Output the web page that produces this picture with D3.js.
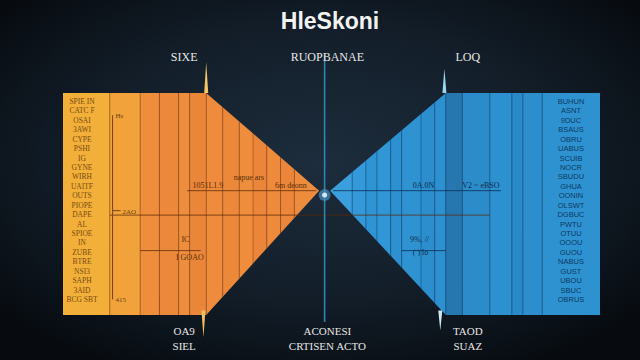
<!DOCTYPE html>
<html><head><meta charset="utf-8">
<script src="https://cdn.jsdelivr.net/npm/d3@7"></script>
<style>html,body{margin:0;padding:0;background:#0d151d;}svg{display:block;}</style>
</head><body><svg id="c" width="640" height="360"></svg>
<script>
// ---------- data ----------
const title = "HleSkoni";
const headerLabels = ["SIXE", "RUOPBANAE", "LOQ"];
const footerLabels = [["OA9", "SIEL"], ["ACONESI", "CRTISEN ACTO"], ["TAOD", "SUAZ"]];
const headerPos = [-51, 1, 52];
// column edges (x units) and shades
const leftEdges = [-95, -78, -67, -60, -53, -49, -43, -37, -31, -26, -21, -16, -11, -2];
const leftShades = ["#f2b03a", "#f1a23a", "#ee8e3c", "#ec883a", "#ee8e3d", "#ea863a", "#ee8b3c", "#ec883a", "#ee8e3d", "#ea853a", "#ed8a3c", "#ec863a", "#ee8c3e"];
const rightEdges = [2, 10, 15, 19, 24, 28, 35, 40, 44, 50, 60, 68, 72, 79, 100];
const rightShades = ["#3a9fdc", "#3399d8", "#2f94d3", "#3196d5", "#2d90d0", "#2f93d2", "#2c8ecd", "#2d90cf", "#2677b0", "#2c8cca", "#2d90cf", "#2a8ac8", "#2c8ecc", "#2e92d1"];
// outlines: x, low value, high value
const leftOutline = [[-95, 0, 100], [-43, 0, 100], [-2, 56, 56]];
const rightOutline = [[2, 56, 56], [44, 0, 100], [100, 0, 100]];
// guide lines inside the wedges: x0, x1, value
const guideLines = [[-50, -3, 56], [3, 64, 56], [-78, 60, 45], [-67, -45, 29], [28, 44, 29]];
// bracket on the left: x, value range, tick labels
const bracketX = -77;
const bracketRange = [7, 90];
const bracketTicks = [[90, "Hs"], [47, "2AO"], [7, "415"]];
// inline annotations: x, value, text
const leftNotes = [[-48, 57, "1051L1.9"], [-33, 61, "napue ars"], [-18, 57, "6m deonn"], [-52, 33, "IC"], [-54, 25, "I GOAO"]];
const rightNotes = [[32, 57, "0A.0N"], [50, 57, "V2 ~ eBSO"], [31, 33, "9%, //"], [32, 27, "( ) lo"]];
const leftList = ["SPIE IN", "CATC F", "OSAI", "3AWI", "CYPE", "PSHI", "IG", "GYNE", "WIRH", "UAITF", "OUTS", "PIOPE", "DAPE", "AL", "SPIOE", "IN", "ZUBE", "BTRE", "NSI3", "SAPH", "3AID", "BCG SBT"];
const rightList = ["BUHUN", "ASNT", "9DUC", "BSAUS", "OBRU", "UABUS", "SCUIB", "NOCR", "SBUDU", "GHUA", "OONIN", "OLSWT", "DGBUC", "PWTU", "OTUU", "OOOU", "GUOU", "NABUS", "GUST", "UBOU", "SBUC", "OBRUS"];

// ---------- drawing ----------
const svg = d3.select("#c");
const W = 640, H = 360;
const x = d3.scaleLinear().domain([-95, 100]).range([63, 600]);
const y = d3.scaleLinear().domain([0, 100]).range([315, 93]);

const defs = svg.append("defs");
const bg = defs.append("radialGradient").attr("id", "bg").attr("cx", "50%").attr("cy", "45%").attr("r", "65%");
bg.append("stop").attr("offset", "0%").attr("stop-color", "#1d2d3d");
bg.append("stop").attr("offset", "60%").attr("stop-color", "#121d28");
bg.append("stop").attr("offset", "100%").attr("stop-color", "#070b10");
svg.append("rect").attr("width", W).attr("height", H).attr("fill", "url(#bg)");

const area = d3.area().x(d => x(d[0])).y0(d => y(d[1])).y1(d => y(d[2]));
defs.append("clipPath").attr("id", "clipL").append("path").attr("d", area(leftOutline));
defs.append("clipPath").attr("id", "clipR").append("path").attr("d", area(rightOutline));

function stripes(edges, shades, clip, lineCol) {
  const g = svg.append("g").attr("clip-path", `url(#${clip})`);
  g.selectAll("rect").data(shades).join("rect")
    .attr("x", (d, i) => x(edges[i])).attr("width", (d, i) => x(edges[i + 1]) - x(edges[i]))
    .attr("y", y(100)).attr("height", y(0) - y(100)).attr("fill", d => d);
  g.selectAll("line.sep").data(edges.slice(1, -1)).join("line").attr("class", "sep")
    .attr("x1", d => x(d)).attr("x2", d => x(d)).attr("y1", y(100)).attr("y2", y(0))
    .attr("stroke", lineCol).attr("stroke-width", 1);
  return g;
}
stripes(leftEdges, leftShades, "clipL", "rgba(120,55,10,0.45)");
stripes(rightEdges, rightShades, "clipR", "rgba(10,55,100,0.45)");

// guide lines
svg.append("g").selectAll("line").data(guideLines).join("line")
  .attr("x1", d => x(d[0])).attr("x2", d => x(d[1])).attr("y1", d => y(d[2])).attr("y2", d => y(d[2]))
  .attr("stroke", d => d[0] < 0 ? "rgba(90,40,10,0.75)" : "rgba(10,40,80,0.75)").attr("stroke-width", 1);

// center line
svg.append("line").attr("x1", x(0)).attr("x2", x(0)).attr("y1", 55).attr("y2", 322)
  .attr("stroke", "#2f86a8").attr("stroke-width", 1.6);
svg.append("circle").attr("cx", x(0)).attr("cy", y(54)).attr("r", 6).attr("fill", "#4a8fc0").attr("opacity", 0.7);
svg.append("circle").attr("cx", x(0)).attr("cy", y(54)).attr("r", 2.5).attr("fill", "#cfe6f5");

// spikes
const spikes = [[-43, 100, 114, "#f3c766"], [-44, 2, -10, "#f0c060"], [43.5, 100, 111, "#9ad6f2"], [42, 2, -7, "#cfeaf7"]];
svg.append("g").selectAll("path").data(spikes).join("path")
  .attr("d", d => `M${x(d[0]) - 2},${y(d[1])} L${x(d[0]) + 2},${y(d[1])} L${x(d[0])},${y(d[2])} Z`)
  .attr("fill", d => d[3]);

// bracket
const br = svg.append("g");
br.append("line").attr("x1", x(bracketX)).attr("x2", x(bracketX)).attr("y1", y(bracketRange[1])).attr("y2", y(bracketRange[0]))
  .attr("stroke", "#7a4512").attr("stroke-width", 1);
br.selectAll("text").data(bracketTicks).join("text")
  .attr("x", (d, i) => x(bracketX) + (i === 1 ? 10 : 3)).attr("y", d => y(d[0]) + 3)
  .attr("font-family", "Liberation Serif").attr("font-size", 7).attr("fill", "#6b3e10").text(d => d[1]);
br.append("line").attr("x1", x(bracketX)).attr("x2", x(bracketX) + 8).attr("y1", y(47)).attr("y2", y(47)).attr("stroke", "#7a4512");

// annotations
svg.append("g").selectAll("text").data(leftNotes).join("text")
  .attr("x", d => x(d[0])).attr("y", d => y(d[1])).attr("font-family", "Liberation Serif").attr("font-size", 8)
  .attr("fill", "#5a2e08").text(d => d[2]);
svg.append("g").selectAll("text").data(rightNotes).join("text")
  .attr("x", d => x(d[0])).attr("y", d => y(d[1])).attr("font-family", "Liberation Serif").attr("font-size", 8)
  .attr("fill", "#0c2c4c").text(d => d[2]);

// side lists
const ly = d3.scalePoint().domain(d3.range(22)).range([104, 302]);
svg.append("g").selectAll("text").data(leftList).join("text")
  .attr("x", 82).attr("y", (d, i) => ly(i)).attr("text-anchor", "middle")
  .attr("font-family", "Liberation Serif").attr("font-size", 7.5).attr("fill", "#7a4a10").text(d => d);
svg.append("g").selectAll("text").data(rightList).join("text")
  .attr("x", 571).attr("y", (d, i) => ly(i)).attr("text-anchor", "middle")
  .attr("font-family", "Liberation Sans Narrow, Liberation Sans").attr("font-size", 7.5).attr("fill", "#0d3a62").text(d => d);

// title and labels
svg.append("text").attr("x", 330).attr("y", 29).attr("text-anchor", "middle")
  .attr("font-family", "Liberation Sans").attr("font-weight", "bold").attr("font-size", 23).attr("fill", "#f2f2f2").text(title);
svg.append("g").selectAll("text").data(headerLabels).join("text")
  .attr("x", (d, i) => x(headerPos[i])).attr("y", 61).attr("text-anchor", "middle")
  .attr("font-family", "Liberation Serif").attr("font-size", 12).attr("fill", "#e8e8e8").text(d => d);
const fg = svg.append("g").selectAll("g").data(footerLabels).join("g");
fg.selectAll("text").data((d, i) => d.map((t, j) => [t, i, j])).join("text")
  .attr("x", d => x(headerPos[d[1]])).attr("y", d => 335 + d[2] * 15).attr("text-anchor", "middle")
  .attr("font-family", "Liberation Serif").attr("font-size", 11).attr("fill", "#e6e6e6").text(d => d[0]);
</script></body></html>
